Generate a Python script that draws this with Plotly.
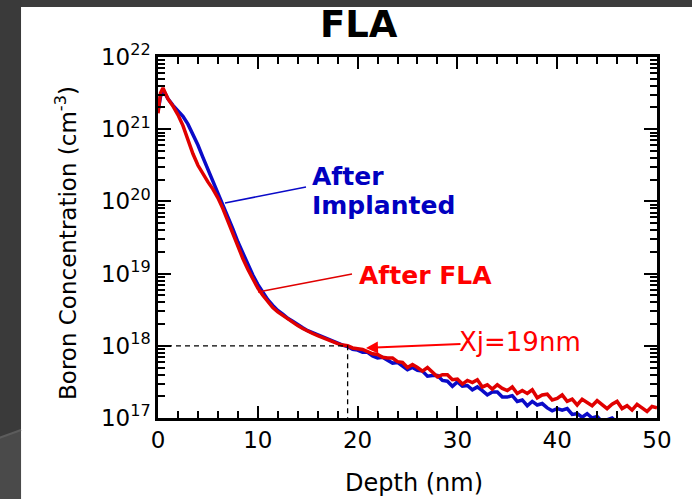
import plotly.graph_objects as go

# ---------------- data ----------------
depth_nm = [0, 0.25, 0.5, 0.75,
            1.0, 1.5, 2.0, 2.5, 3.0, 3.5, 4.0, 4.5, 5.0, 5.5, 6.0, 6.5, 7.0, 7.5, 8.0, 8.5,
            9.0, 9.5, 10.0, 10.5, 11.0, 11.5, 12.0, 12.5, 13.0, 13.5, 14.0, 14.5,
            15.0, 15.5, 16.0, 16.5, 17.0, 17.5, 18.0, 18.5, 19.0, 19.5, 20.0, 20.5,
            21.0, 21.5, 22.0, 22.5, 23.0, 23.5, 24.0, 24.5, 25.0, 25.5, 26.0, 26.5,
            27.0, 27.5, 28.0, 28.5, 29.0, 29.5, 30.0, 30.5, 31.0, 31.5, 32.0, 32.5,
            33.0, 33.5, 34.0, 34.5, 35.0, 35.5, 36.0, 36.5, 37.0, 37.5, 38.0, 38.5,
            39.0, 39.5, 40.0, 40.5, 41.0, 41.5, 42.0, 42.5, 43.0, 43.5, 44.0, 44.5,
            45.0, 45.5, 46.0, 46.5, 47.0, 47.5, 48.0, 48.5, 49.0, 49.5, 50.0]

# log10 of boron concentration (cm^-3)
implanted_log10 = [21.25, 21.45, 21.55, 21.48,
                   21.42, 21.33, 21.25, 21.18, 21.07, 20.93, 20.78, 20.61, 20.45, 20.29, 20.12, 19.96,
                   19.80, 19.62, 19.44, 19.28, 19.13, 18.98, 18.85, 18.74, 18.64, 18.56, 18.49, 18.44,
                   18.38, 18.34, 18.29, 18.25,
                   18.21, 18.18, 18.15, 18.12, 18.09, 18.06, 18.03, 18.01, 17.99, 17.95,
                   17.94, 17.91, 17.91, 17.86, 17.83, 17.84, 17.80, 17.76, 17.77, 17.72,
                   17.67, 17.70, 17.66, 17.65, 17.58, 17.59, 17.59, 17.52, 17.51, 17.44,
                   17.50, 17.44, 17.45, 17.39, 17.43, 17.38, 17.32, 17.36, 17.36, 17.29,
                   17.29, 17.31, 17.23, 17.25, 17.17, 17.23, 17.18, 17.20, 17.14, 17.10,
                   17.13, 17.11, 17.13, 17.05, 17.06, 17.01, 17.06, 17.00, 17.02, 16.95,
                   16.98, 17.00, 16.94, 16.91, 16.95, 16.91, 16.86, 16.92, 16.87, 16.84, 16.87]

fla_log10 = [21.22, 21.50, 21.57, 21.50,
             21.42, 21.32, 21.20, 21.05, 20.85, 20.66, 20.50, 20.38, 20.27, 20.17, 20.05, 19.90,
             19.72, 19.54, 19.37, 19.21, 19.06, 18.93, 18.80, 18.70, 18.61, 18.53, 18.47, 18.42,
             18.37, 18.32, 18.28, 18.24,
             18.20, 18.17, 18.14, 18.11, 18.08, 18.05, 18.03, 18.01, 18.00, 17.97,
             17.96, 17.95, 17.92, 17.89, 17.88, 17.84, 17.83, 17.83, 17.78, 17.77,
             17.70, 17.74, 17.70, 17.65, 17.70, 17.63, 17.57, 17.60, 17.60, 17.53,
             17.54, 17.47, 17.52, 17.49, 17.53, 17.43, 17.46, 17.40, 17.46, 17.41,
             17.38, 17.43, 17.34, 17.38, 17.34, 17.39, 17.28, 17.32, 17.33, 17.25,
             17.27, 17.32, 17.23, 17.26, 17.18, 17.26, 17.22, 17.17, 17.24, 17.18,
             17.13, 17.19, 17.23, 17.13, 17.17, 17.11, 17.19, 17.14, 17.09, 17.16, 17.14]

xj_depth = 19.0
xj_conc = 1e18

x_tick_vals = [0, 10, 20, 30, 40, 50]
x_tick_text = ["0", "10", "20", "30", "40", "50"]
y_decades = [17, 18, 19, 20, 21, 22]

implanted = [10.0 ** v for v in implanted_log10]
fla = [10.0 ** v for v in fla_log10]

BLUE = "#0a0ac8"
RED = "#e00000"
FONT = "DejaVu Sans"

fig = go.Figure()
fig.add_trace(go.Scatter(x=depth_nm, y=implanted, mode="lines",
                         line=dict(color=BLUE, width=3.5), name="After Implanted"))
fig.add_trace(go.Scatter(x=depth_nm, y=fla, mode="lines",
                         line=dict(color=RED, width=3.5), name="After FLA"))
# dashed guide lines for Xj
fig.add_trace(go.Scatter(x=[0.0, xj_depth, xj_depth], y=[xj_conc, xj_conc, 1e17], mode="lines",
                         line=dict(color="black", width=1.3, dash="5px,4px"), name="Xj"))

y_minor = [float(m) * 10.0 ** d for d in y_decades[:-1] for m in range(2, 10)]

fig.update_xaxes(range=[0, 50], tickvals=x_tick_vals, ticktext=x_tick_text,
                 ticks="inside", ticklen=12, tickwidth=2, tickcolor="black",
                 showline=True, linecolor="black", linewidth=2.5, mirror="ticks",
                 showgrid=False, zeroline=False,
                 tickfont=dict(family=FONT, size=23, color="black"),
                 minor=dict(tickvals=list(range(2, 50, 2)), ticks="inside", ticklen=7,
                            tickwidth=1.5, tickcolor="black", showgrid=False))
fig.update_yaxes(type="log", range=[17, 22],
                 tickvals=[10.0 ** d for d in y_decades],
                 ticktext=["10<sup>%d</sup>" % d for d in y_decades],
                 ticks="inside", ticklen=13, tickwidth=2, tickcolor="black",
                 showline=True, linecolor="black", linewidth=2.5, mirror="ticks",
                 showgrid=False, zeroline=False,
                 tickfont=dict(family=FONT, size=23, color="black"),
                 minor=dict(tickvals=y_minor, ticks="inside", ticklen=7,
                            tickwidth=1.5, tickcolor="black", showgrid=False))

# slide background pieces (dark frame)
shapes = [
    dict(type="rect", xref="paper", yref="paper", x0=-0.33, x1=1.08, y0=1.1385, y1=1.17,
         fillcolor="#3c3c3c", line=dict(width=0), layer="below"),
    dict(type="rect", xref="paper", yref="paper", x0=-0.33, x1=-0.2745, y0=-0.23, y1=1.17,
         fillcolor="#3a3a3a", line=dict(width=0), layer="below"),
    dict(type="path", xref="paper", yref="paper",
         path="M -0.33,-0.0609 L -0.2745,-0.0332 L -0.2745,-0.23 L -0.33,-0.23 Z",
         fillcolor="#4a4a4a", line=dict(width=0), layer="below"),
    dict(type="line", xref="paper", yref="paper", x0=-0.33, y0=-0.0609, x1=-0.2745, y1=-0.0332,
         line=dict(color="#5c5c5c", width=2), layer="below"),
    # leader lines
    dict(type="line", xref="paper", yref="paper", x0=0.1343, y0=0.5956, x1=0.2966, y1=0.6399,
         line=dict(color=BLUE, width=1.6)),
    dict(type="line", xref="paper", yref="paper", x0=0.2004, y0=0.3490, x1=0.3888, y1=0.3989,
         line=dict(color=RED, width=1.6)),
]

annotations = [
    dict(text="<b>FLA</b>", x=0.4028, y=1.0914, xref="paper", yref="paper",
         xanchor="center", yanchor="middle", showarrow=False,
         font=dict(family=FONT, size=37, color="black")),
    dict(text="<b>After</b>", x=0.3046, y=0.6676, xref="paper", yref="paper",
         xanchor="left", yanchor="middle", showarrow=False,
         font=dict(family=FONT, size=25, color="#0000c0")),
    dict(text="<b>Implanted</b>", x=0.3046, y=0.5873, xref="paper", yref="paper",
         xanchor="left", yanchor="middle", showarrow=False,
         font=dict(family=FONT, size=25, color="#0000c0")),
    dict(text="<b>After FLA</b>", x=0.3988, y=0.3961, xref="paper", yref="paper",
         xanchor="left", yanchor="middle", showarrow=False,
         font=dict(family=FONT, size=25, color="#ff0000")),
    dict(text="Xj=19nm", x=0.5992, y=0.2119, xref="paper", yref="paper",
         xanchor="left", yanchor="middle", showarrow=False,
         font=dict(family=FONT, size=26, color="#ff0000")),
    dict(text="", x=0.4168, y=0.1939, xref="paper", yref="paper",
         showarrow=True, ax=96, ay=-4, arrowhead=2, arrowsize=1.2, arrowwidth=2,
         arrowcolor="#ff0000"),
    dict(text="Boron Concentration (cm<sup>-3</sup>)", x=-0.1844, y=0.4848,
         xref="paper", yref="paper", textangle=-90, xanchor="center", yanchor="middle",
         showarrow=False, font=dict(family=FONT, size=23, color="black")),
    dict(text="Depth (nm)", x=0.513, y=-0.18, xref="paper", yref="paper",
         xanchor="center", yanchor="middle", showarrow=False,
         font=dict(family=FONT, size=24, color="black")),
]

fig.update_layout(width=692, height=499, margin=dict(l=158, r=35, t=57, b=81),
                  paper_bgcolor="white", plot_bgcolor="white", showlegend=False,
                  shapes=shapes, annotations=annotations)

fig.write_html("out.html")
